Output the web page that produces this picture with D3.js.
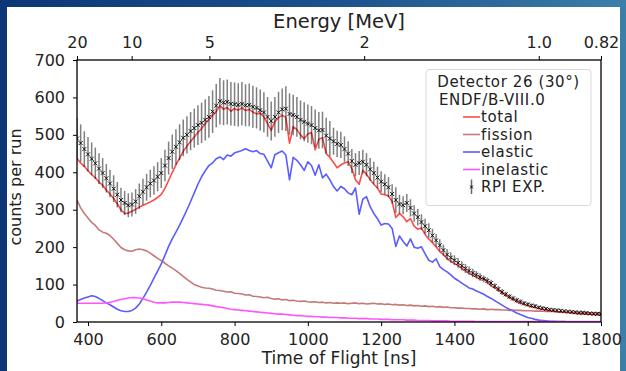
<!DOCTYPE html>
<html><head><meta charset="utf-8">
<script src="https://cdn.jsdelivr.net/npm/d3@7"></script>
<style>body{margin:0;background:#fff;} svg{display:block;} text{font-family:"DejaVu Sans",sans-serif;fill:#222;}</style>
</head><body><svg id="c" width="626" height="371"></svg>
<script>
// ---- data ----
const tof = [370,380,390,400,410,420,430,440,450,460,
 470,480,490,500,510,520,530,540,550,560,
 570,580,590,600,610,620,630,640,650,660,
 670,680,690,700,710,720,730,740,750,760,
 770,780,790,800,810,820,830,840,850,860,
 870,880,890,900,910,920,930,940,950,960,
 970,980,990,1000,1010,1020,1030,1040,1050,1060,
 1070,1080,1090,1100,1110,1120,1130,1140,1150,1160,
 1170,1180,1190,1200,1210,1220,1230,1240,1250,1260,
 1270,1280,1290,1300,1310,1320,1330,1340,1350,1360,
 1370,1380,1390,1400,1410,1420,1430,1440,1450,1460,
 1470,1480,1490,1500,1510,1520,1530,1540,1550,1560,
 1570,1580,1590,1600,1610,1620,1630,1640,1650,1660,
 1670,1680,1690,1700,1710,1720,1730,1740,1750,1760,
 1770,1780,1790,1800];

const total = [437,425,416,404,394,385,374,366,352,342,
 330,316,300,290,291,296,301,307,312,316,
 321,326,333,341,357,378,400,420,438,456,
 470,482,494,506,517,530,541,552,562,578,
 568,573,563,570,566,572,565,568,561,556,
 558,548,530,512,536,546,552,547,478,522,
 514,500,490,502,506,460,488,492,450,440,
 426,412,420,425,428,410,380,368,405,395,
 380,368,358,342,340,337,322,279,290,281,
 268,276,256,248,251,234,222,212,201,188,
 180,170,162,156,151,143,137,130,125,120,
 114,117,106,97,91,85,78,71,65,60,
 55,51,47,44,41,39,36,34,33,31,
 30,28,27,26,25,24,23,22,21,21,
 20,20,19,19];

const fission = [326,305,290,278,266,258,246,240,237,231,
 221,210,199,193,190,189,193,195,193,190,
 184,177,170,164,157,150,144,137,130,122,
 114,107,100,96,93,91,90,88,85,84,
 82,80,81,77,76,75,72,73,69,68,
 67,65,66,63,61,62,59,60,57,58,
 56,55,56,54,53,54,52,53,51,52,
 50,51,50,51,49,50,51,49,50,48,
 49,50,48,49,47,48,46,47,45,46,
 44,45,43,44,42,43,41,42,40,41,
 39,40,38,38,37,37,36,36,35,35,
 34,35,33,34,33,33,32,32,31,32,
 31,31,30,30,30,29,29,29,28,28,
 28,27,27,27,26,26,26,25,25,25,
 24,24,24,23];

const elastic = [56,60,64,67,70,68,63,57,51,46,
 40,34,30,28,28,31,37,48,63,80,
 98,117,136,155,178,202,222,240,259,279,
 300,322,345,368,388,404,418,425,436,441,
 434,446,443,452,455,458,463,458,455,458,
 450,448,430,412,447,452,457,446,380,440,
 432,420,405,428,418,392,420,385,395,380,
 362,350,362,356,345,340,358,288,328,335,
 308,290,276,259,263,262,250,202,230,215,
 203,222,200,197,201,182,165,160,169,148,
 140,134,126,117,111,104,98,91,88,83,
 79,74,68,63,57,51,45,39,34,29,
 24,20,16,12,10,7,5,4,3,2,
 2,1,1,1,0,0,0,0,0,0,
 0,0,0,0];

const inelastic = [50,50,50,50,50,50,50,50,51,53,
 55,58,60,62,64,65,65,64,62,59,
 56,53,51,51,51,52,53,53,53,52,
 51,50,49,48,47,46,45,43,41,40,
 38,36,34,33,32,31,30,29,28,27,
 26,25,24,23,22,21,21,20,19,18,
 17,17,16,15,15,14,14,13,13,12,
 12,12,11,11,10,10,10,9,9,9,
 8,8,8,7,7,7,6,6,6,6,
 5,5,5,4,4,4,4,3,3,3,
 3,3,2,2,2,2,2,2,2,1,
 1,1,1,1,1,1,1,1,1,1,
 1,1,1,1,1,1,1,1,1,1,
 1,1,1,1,1,1,1,1,1,1,
 1,1,1,1];

const expCounts = [490,478,462,448,436,424,410,398,384,370,
 356,340,326,318,312,314,322,336,348,360,
 370,378,388,398,418,438,455,468,480,492,
 500,510,518,526,532,540,548,562,578,590,
 586,588,583,582,580,583,579,580,575,572,
 566,560,548,537,548,560,568,570,556,553,
 548,540,535,530,526,518,512,513,498,490,
 483,476,473,462,450,430,420,425,428,420,
 408,398,386,375,368,360,342,326,315,312,
 318,305,290,280,267,256,245,231,218,205,
 192,180,172,165,158,150,143,137,131,126,
 120,115,110,104,96,88,80,74,68,63,
 58,54,50,47,44,42,39,37,35,33,
 32,31,30,29,28,27,26,25,25,24,
 23,22,22,21];

const expErr = [55,50,48,46,44,42,41,40,38,37,
 36,34,33,32,32,32,33,34,35,36,
 37,38,39,40,42,44,46,47,48,49,
 50,51,52,53,54,55,56,57,58,62,
 60,60,58,58,58,58,56,57,56,55,
 55,54,53,52,53,55,56,60,55,54,
 53,52,52,51,51,50,49,49,48,47,
 36,35,35,34,33,32,31,32,32,31,
 30,30,29,28,27,27,26,34,25,24,
 24,23,22,22,21,20,19,18,17,16,
 15,15,14,13,13,12,12,11,11,10,
 10,9,9,9,8,8,8,7,7,7,
 7,7,6,6,6,6,5,5,5,5,
 5,5,5,4,4,4,4,4,4,4,
 4,4,4,4];

const xTicks = [400,600,800,1000,1200,1400,1600,1800];
const yTicks = [0,100,200,300,400,500,600,700];
const energyTicks = [20,10,5,2,1.0,0.82];
const energyLabels = ["20","10","5","2","1.0","0.82"];
const flightPath = 22.53; // m

const seriesNames = ["total","fission","elastic","inelastic"];
const seriesColors = {total:"#ff4a4a", fission:"#c47a78", elastic:"#5c5cff", inelastic:"#ff55ff"};

// ---- drawing ----
const svg = d3.select("#c");
const W = 626, H = 371;
const pL = 77, pR = 601, pT = 60, pB = 322;

const defs = svg.append("defs");
const grad = defs.append("linearGradient").attr("id","bg").attr("x1","0").attr("x2","1").attr("y1","0").attr("y2","0");
grad.append("stop").attr("offset","0").attr("stop-color","#0c3675");
grad.append("stop").attr("offset","0.55").attr("stop-color","#1d528c");
grad.append("stop").attr("offset","1").attr("stop-color","#3c7fa9");
svg.append("rect").attr("width",W).attr("height",H).attr("fill","url(#bg)");
svg.append("rect").attr("x",7).attr("y",7).attr("width",613).attr("height",H-7).attr("fill","#fff");

defs.append("clipPath").attr("id","clip").append("rect")
  .attr("x",pL).attr("y",pT).attr("width",pR-pL).attr("height",pB-pT);

const x = d3.scaleLinear().domain([370,1800]).range([pL,pR]);
const y = d3.scaleLinear().domain([0,700]).range([pB,pT]);

function energyToTof(E){
  const m = 939.565; const g = 1 + E/m; const beta = Math.sqrt(1 - 1/(g*g));
  return flightPath/(0.299792458*beta);
}

const plot = svg.append("g").attr("clip-path","url(#clip)");
const data = {total, fission, elastic, inelastic};
const order = ["fission","elastic","inelastic","total"];
order.forEach(name=>{
  const line = d3.line().x((d,i)=>x(tof[i])).y(d=>y(d));
  plot.append("path").datum(data[name]).attr("d",line)
    .attr("fill","none").attr("stroke",seriesColors[name]).attr("stroke-width",1.6)
    .attr("stroke-linejoin","round");
});

// experimental error bars and markers
const exp = tof.map((t,i)=>({t, v:expCounts[i], e:expErr[i]}));
plot.append("g").selectAll("line").data(exp).join("line")
  .attr("x1",d=>x(d.t)).attr("x2",d=>x(d.t))
  .attr("y1",d=>y(d.v-d.e)).attr("y2",d=>y(d.v+d.e))
  .attr("stroke","#000").attr("stroke-opacity",0.5).attr("stroke-width",1.5);
plot.append("g").selectAll("path").data(exp).join("path")
  .attr("transform",d=>`translate(${x(d.t)},${y(d.v)})`)
  .attr("d","M-2,-2L2,2M-2,2L2,-2")
  .attr("stroke","#000").attr("stroke-width",0.9).attr("fill","none");

// axes
const fs = "16px";
const gx = svg.append("g").attr("transform",`translate(0,${pB})`)
  .call(d3.axisBottom(x).tickValues(xTicks).tickFormat(d3.format("d")).tickSize(4).tickPadding(8).tickSizeOuter(0));
const gy = svg.append("g").attr("transform",`translate(${pL},0)`)
  .call(d3.axisLeft(y).tickValues(yTicks).tickFormat(d3.format("d")).tickSize(4).tickPadding(8).tickSizeOuter(0));
const gt = svg.append("g").attr("transform",`translate(0,${pT})`)
  .call(d3.axisTop(x).tickValues(energyTicks.map(energyToTof)).tickFormat((d,i)=>energyLabels[i])
    .tickSize(4).tickPadding(8).tickSizeOuter(0));
[gx,gy,gt].forEach(g=>{
  g.select(".domain").remove();
  g.selectAll(".tick line").attr("stroke","#000").attr("stroke-width",1);
  g.selectAll(".tick text").attr("font-size",fs).attr("font-family","DejaVu Sans").attr("fill","#222");
});
svg.append("rect").attr("x",pL).attr("y",pT).attr("width",pR-pL).attr("height",pB-pT)
  .attr("fill","none").attr("stroke","#000").attr("stroke-width",1.3);

// titles
svg.append("text").attr("x",(pL+pR)/2).attr("y",364).attr("text-anchor","middle")
  .attr("font-size","17px").text("Time of Flight [ns]");
svg.append("text").attr("x",(pL+pR)/2).attr("y",27.5).attr("text-anchor","middle")
  .attr("font-size","19.5px").text("Energy [MeV]");
svg.append("text").attr("transform","translate(21,187) rotate(-90)").attr("text-anchor","middle")
  .attr("font-size","16px").text("counts per run");

// legend
const lg = svg.append("g");
lg.append("rect").attr("x",426).attr("y",69.5).attr("width",165).attr("height",136).attr("rx",3)
  .attr("fill","#fff").attr("fill-opacity",0.85).attr("stroke","#d8d8d8").attr("stroke-width",1);
const step = 17.5, firstEntry = 122;
seriesNames.forEach((name,i)=>{
  const yy = firstEntry + i*step;
  lg.append("line").attr("x1",463).attr("x2",480).attr("y1",yy-5).attr("y2",yy-5)
    .attr("stroke",seriesColors[name]).attr("stroke-width",1.6);
});
const ey = firstEntry + 4*step;
lg.append("line").attr("x1",471.5).attr("x2",471.5).attr("y1",ey-12.5).attr("y2",ey+2)
  .attr("stroke","#000").attr("stroke-opacity",0.6).attr("stroke-width",1.5);
lg.append("path").attr("transform",`translate(471.5,${ey-5})`).attr("d","M-1.5,-1.5L1.5,1.5M-1.5,1.5L1.5,-1.5")
  .attr("stroke","#000").attr("stroke-width",0.9);
const lfs = "15px", ls = "0.6px";
lg.append("text").attr("x",508.5).attr("y",87).attr("text-anchor","middle")
  .attr("font-size",lfs).attr("letter-spacing",ls).text("Detector 26 (30°)");
lg.append("text").attr("x",439).attr("y",104.5)
  .attr("font-size",lfs).attr("letter-spacing",ls).text("ENDF/B-VIII.0");
seriesNames.concat(["RPI EXP."]).forEach((name,i)=>{
  lg.append("text").attr("x",481).attr("y",firstEntry + i*step)
    .attr("font-size",lfs).attr("letter-spacing",ls).text(name);
});
</script>
</body></html>
